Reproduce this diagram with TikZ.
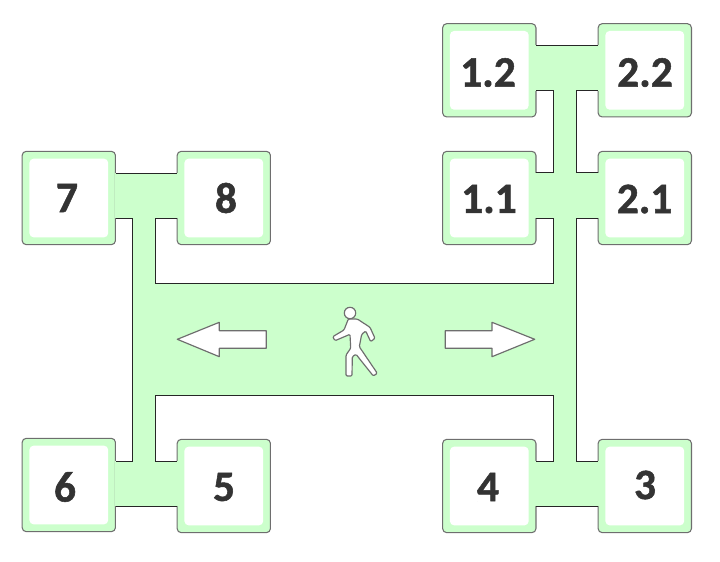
\documentclass[tikz,border=0pt]{standalone}
\usepackage{fontspec}
\setmainfont[BoldFeatures={FakeBold=1.2}]{Carlito}
\definecolor{hallgreen}{RGB}{204,255,204}
\definecolor{roomedge}{RGB}{110,110,110}
\definecolor{roomtext}{RGB}{51,51,51}
\usetikzlibrary{positioning}
\tikzset{
  roombox/.style={draw=roomedge,line width=0.9pt,fill=hallgreen,rounded corners=3.5pt,minimum size=2.8cm,inner sep=0pt},
  roominner/.style={fill=white,rounded corners=3.5pt,minimum size=2.36cm,inner sep=0pt},
  roomlabel/.style={inner sep=0pt,text=roomtext,font=\fontsize{37}{37}\bfseries},
  hallwall/.style={line width=0.7pt,black!85},
  walksign/.style={draw=roomedge,line width=1pt,fill=white,line join=round}
}
\begin{document}
\begin{tikzpicture}[x=0.03cm,y=-0.03cm]
  \useasboundingbox (0,0) rectangle (720,562);
  \foreach \nm/\x/\y/\tx/\ty/\lbl in {
    r12/489.3/70.3/488/72.5/1.2,
    r22/644.8/70.3/645/72.5/2.2,
    r11/489.3/198/489/199/1.1,
    r21/644.8/198/644.6/199/2.1,
    r7/68.8/198/67/198/7,
    r8/223.8/198/226/198/8,
    r6/68.8/485/65/487/6,
    r5/223.8/486/224/487/5,
    r4/489.3/486/488/487/4,
    r3/644.8/486/645/485/3}{
    \node[roombox] (\nm) at (\x,\y) {};
    \node[roominner] (\nm in) at (\x,\y) {};
    \node[roomlabel] (\nm txt) at (\tx,\ty) {\lbl};
  }
  % corridors
  \foreach \xa/\ya/\xb/\yb in {
    535/45/599/90.7,
    535/172.7/599/218.3,
    535/461/599/506,
    115/173.3/178/218.3,
    115/461/178/506,
    553.7/45/576.3/506,
    132.7/173.3/155.3/506,
    132.7/283.7/576.3/395.3}{
    \fill[hallgreen] (\xa,\ya) rectangle (\xb,\yb);
  }
  \draw[hallwall] (536,45) -- (598,45);
  \draw[hallwall] (536,90.7) -- (553.7,90.7) -- (553.7,172.7) -- (536,172.7);
  \draw[hallwall] (598,90.7) -- (576.3,90.7) -- (576.3,172.7) -- (598,172.7);
  \draw[hallwall] (536,218.3) -- (553.7,218.3) -- (553.7,283.7) -- (155.3,283.7) -- (155.3,218.3) -- (177,218.3);
  \draw[hallwall] (598,218.3) -- (576.3,218.3) -- (576.3,461) -- (598,461);
  \draw[hallwall] (115.7,218.3) -- (132.7,218.3) -- (132.7,461) -- (115.7,461);
  \draw[hallwall] (177,461) -- (155.3,461) -- (155.3,395.3) -- (553.7,395.3) -- (553.7,461) -- (536,461);
  \draw[hallwall] (115.7,173.3) -- (177,173.3);
  \draw[hallwall] (115.7,506) -- (177,506);
  \draw[hallwall] (536,506) -- (598,506);
  % arrows and walker
  \draw[walksign] (177.3,339.3) -- (219.3,322.3) -- (219.3,330.7) -- (266.3,330.7) -- (266.3,348.3) -- (219.3,348.3) -- (219.3,356.7) -- cycle;
  \draw[walksign] (534.7,339.3) -- (492,322.3) -- (492,330.7) -- (445.3,330.7) -- (445.3,348.3) -- (492,348.3) -- (492,356.7) -- cycle;
  \draw[walksign,rounded corners=1pt] (348.3,319) -- (357.3,319) -- (370,327.3) -- (375,338.3) -- (370.7,341.7) -- (365.7,331) -- (361.7,334.3) -- (359.3,346.7) -- (377.3,373.3) -- (373.3,376) -- (356,354.3) -- (352.3,356.7) -- (352,376) -- (346,376) -- (346,355) -- (350.7,348.3) -- (350,334.3) -- (335,340.7) -- (332.7,336.7) -- (344,330) -- cycle;
  \draw[walksign] (350,313) circle (5.7);
\end{tikzpicture}
\end{document}
